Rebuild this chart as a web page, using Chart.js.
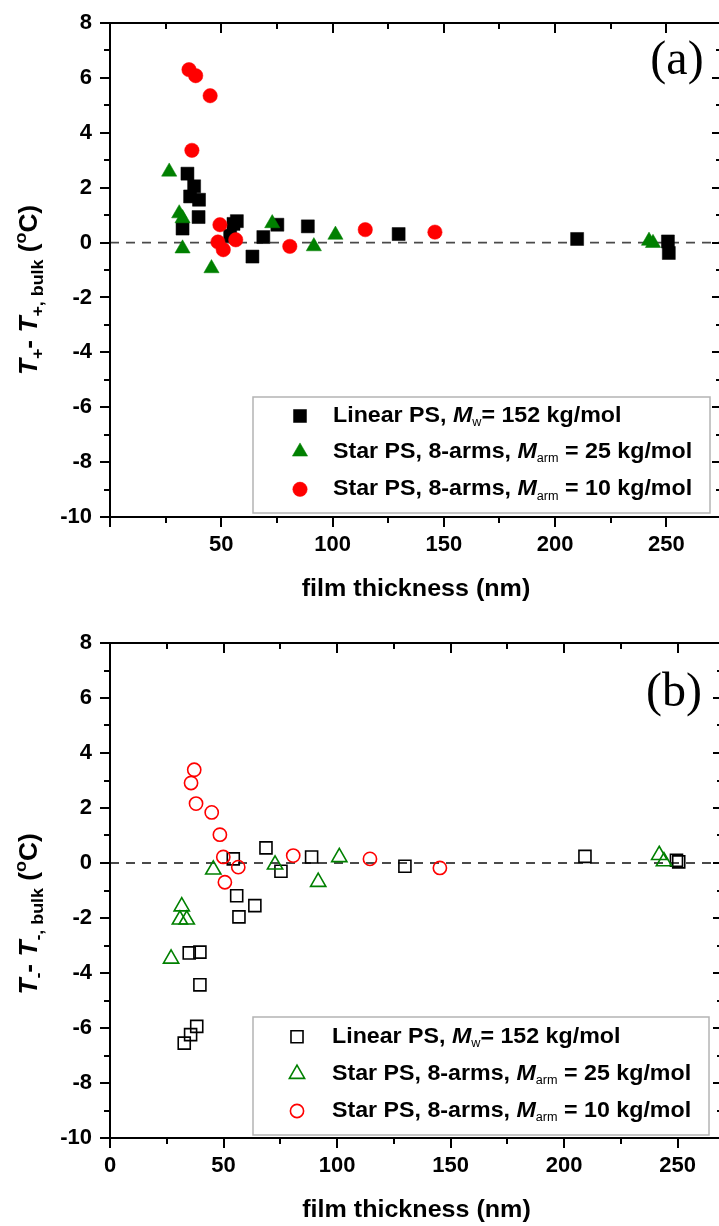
<!DOCTYPE html>
<html>
<head>
<meta charset="utf-8">
<script src="https://cdn.jsdelivr.net/npm/chart.js@4.4.0/dist/chart.umd.min.js"></script>
<style>
html,body{margin:0;padding:0;background:#fff;overflow:hidden;width:719px;height:1226px;}
canvas{position:absolute;left:0;}
#ca{top:0;}
#cb{top:613px;}
</style>
</head>
<body>
<canvas id="ca" width="740" height="613"></canvas>
<canvas id="cb" width="740" height="613"></canvas>
<script>
// ---------------- data: panel (a)  T+ - T+,bulk ----------------
const linearPlusX = [32.6, 34.8, 36.0, 37.8, 39.8, 40.0, 54.0, 55.5, 57.0, 64.0, 68.9, 75.2, 88.9, 129.7, 209.9, 250.7, 251.1];
const linearPlusY = [0.51, 2.51, 1.68, 2.05, 0.93, 1.56, 0.25, 0.68, 0.78, -0.51, 0.20, 0.65, 0.59, 0.31, 0.13, 0.04, -0.38];
const star25PlusX = [26.6, 31.1, 32.6, 32.6, 45.6, 72.9, 91.6, 101.3, 242.2, 244.0];
const star25PlusY = [2.58, 1.06, 0.88, -0.22, -0.94, 0.70, -0.14, 0.28, 0.06, -0.02];
const star10PlusX = [35.5, 38.5, 45.0, 36.8, 49.4, 48.5, 50.9, 56.5, 80.8, 114.7, 146.0];
const star10PlusY = [6.30, 6.08, 5.35, 3.36, 0.65, 0.02, -0.26, 0.10, -0.14, 0.47, 0.38];

// ---------------- data: panel (b)  T- - T-,bulk ----------------
const linearMinusX = [32.7, 35.5, 38.2, 34.9, 39.6, 39.6, 54.3, 55.8, 56.8, 63.8, 68.7, 75.3, 88.8, 129.9, 209.2, 249.5, 250.5];
const linearMinusY = [-6.55, -6.24, -5.94, -3.27, -3.24, -4.43, 0.15, -1.19, -1.96, -1.55, 0.55, -0.30, 0.22, -0.12, 0.24, 0.10, 0.04];
const star25MinusX = [26.9, 30.8, 31.6, 33.8, 45.5, 72.7, 91.7, 101.0, 241.9, 244.0];
const star25MinusY = [-3.48, -2.06, -1.58, -2.06, -0.24, -0.06, -0.69, 0.21, 0.29, 0.06];
const star10MinusX = [35.7, 37.1, 37.9, 44.8, 48.4, 49.9, 50.6, 56.5, 80.7, 114.5, 145.3];
const star10MinusY = [2.91, 3.39, 2.16, 1.84, 1.03, 0.22, -0.70, -0.15, 0.27, 0.15, -0.18];

// reference (bulk) line
const zeroLineX = [0, 280];
const zeroLineY = [0, 0];

// ---------------- axes ----------------
const xRangeA = [0, 275];
const xRangeB = [0, 270];
const yRange = [-10, 8];
const xTickLabelsA = [50, 100, 150, 200, 250];
const xTickLabelsB = [0, 50, 100, 150, 200, 250];
const yTickLabels = [-10, -8, -6, -4, -2, 0, 2, 4, 6, 8];
const xTickMarks = [0, 25, 50, 75, 100, 125, 150, 175, 200, 225, 250, 275];
const xMajorMarks = [0, 50, 100, 150, 200, 250];
const yTickMarks = [-10, -9, -8, -7, -6, -5, -4, -3, -2, -1, 0, 1, 2, 3, 4, 5, 6, 7, 8];
const yMajorMarks = [-10, -8, -6, -4, -2, 0, 2, 4, 6, 8];

// ---------------- text ----------------
const xTitle = 'film thickness (nm)';
const yTitleA = [['T', 'i'], ['+', 'sub'], ['- ', ''], ['T', 'i'], ['+, bulk', 'sub'], [' (', ''], ['o', 'sup'], ['C)', '']];
const yTitleB = [['T', 'i'], ['-', 'sub'], ['- ', ''], ['T', 'i'], ['-, bulk', 'sub'], [' (', ''], ['o', 'sup'], ['C)', '']];
const legendLinear = [['Linear PS, ', ''], ['M', 'i'], ['w', 'sub'], ['= 152 kg/mol', '']];
const legendStar25 = [['Star PS, 8-arms, ', ''], ['M', 'i'], ['arm', 'sub'], [' = 25 kg/mol', '']];
const legendStar10 = [['Star PS, 8-arms, ', ''], ['M', 'i'], ['arm', 'sub'], [' = 10 kg/mol', '']];
const panelLabelA = '(a)';
const panelLabelB = '(b)';

// ---------------- helpers ----------------
const FONT = '"Liberation Sans", Arial, Helvetica, sans-serif';
const GREEN = '#008000';
const RED = '#ff0000';
const pts = (xs, ys) => xs.map((x, i) => ({x: x, y: ys[i]}));

function segFont(kind, size, sub) {
  if (kind === 'sub' || kind === 'sup') return `${sub.weight} ${sub.size}px ${FONT}`;
  return `${kind === 'i' ? 'italic ' : ''}bold ${size}px ${FONT}`;
}
function richWidth(ctx, segs, size, sub) {
  let w = 0;
  for (const [t, k] of segs) { ctx.font = segFont(k, size, sub); w += ctx.measureText(t).width; }
  return w;
}
// draws rich text starting at (x,y), horizontally stretched by sx
function drawRich(ctx, segs, x, y, size, sub, sx) {
  ctx.save();
  ctx.translate(x, y);
  ctx.scale(sx, 1);
  let cx = 0;
  for (const [t, k] of segs) {
    ctx.font = segFont(k, size, sub);
    const dy = k === 'sub' ? sub.dy : (k === 'sup' ? -sub.up : 0);
    ctx.fillText(t, cx, dy);
    cx += ctx.measureText(t).width;
  }
  ctx.restore();
}

const framePlugin = {
  id: 'frame',
  afterDraw(chart, args, o) {
    const ctx = chart.ctx, ca = chart.chartArea, xs = chart.scales.x, ys = chart.scales.y;
    ctx.save();
    ctx.strokeStyle = '#000';
    ctx.lineWidth = 2;
    ctx.lineCap = 'butt';
    ctx.strokeRect(ca.left, ca.top, ca.right - ca.left, ca.bottom - ca.top);
    ctx.beginPath();
    for (const v of xTickMarks) {
      if (v < xs.min || v > xs.max) continue;
      const p = Math.round(xs.getPixelForValue(v));
      const L = xMajorMarks.includes(v) ? 10 : 6;
      ctx.moveTo(p, ca.bottom); ctx.lineTo(p, ca.bottom + L);
      ctx.moveTo(p, ca.top); ctx.lineTo(p, ca.top + L);
    }
    for (const v of yTickMarks) {
      const p = Math.round(ys.getPixelForValue(v));
      const L = yMajorMarks.includes(v) ? 10 : 6;
      ctx.moveTo(ca.left, p); ctx.lineTo(ca.left - L, p);
      ctx.moveTo(ca.right, p); ctx.lineTo(ca.right - L, p);
    }
    ctx.stroke();

    // panel label
    ctx.fillStyle = '#000';
    ctx.font = `${o.label.size}px "Liberation Serif", "Times New Roman", serif`;
    ctx.textAlign = 'center';
    ctx.textBaseline = 'middle';
    ctx.fillText(o.label.text, o.label.x, o.label.y);

    // x title
    ctx.save();
    ctx.font = `bold ${o.xt.size}px ${FONT}`;
    ctx.translate((ca.left + ca.right) / 2, o.xt.y);
    ctx.scale(o.xt.sx, 1);
    ctx.fillText(xTitle, 0, 0);
    ctx.restore();

    // y title (rich, rotated)
    ctx.textAlign = 'left';
    ctx.textBaseline = 'alphabetic';
    const ysub = {size: 17, weight: 'bold', dy: 6, up: 11};
    const w = richWidth(ctx, o.yt.segs, o.yt.size, ysub) * o.yt.sx;
    ctx.save();
    ctx.translate(o.yt.x, o.yt.y);
    ctx.rotate(-Math.PI / 2);
    drawRich(ctx, o.yt.segs, -w / 2, 0, o.yt.size, ysub, o.yt.sx);
    ctx.restore();

    // legend
    const L = o.legend;
    ctx.fillStyle = '#fff';
    ctx.fillRect(L.x, L.y, L.w, L.h);
    ctx.strokeStyle = '#b4b4b4';
    ctx.lineWidth = 1.5;
    ctx.strokeRect(L.x, L.y, L.w, L.h);
    const lsub = {size: 12, weight: 'normal', dy: 7, up: 8};
    L.items.forEach((it, i) => {
      const ds = chart.data.datasets[it.ds];
      const ry = L.rows[i];
      ctx.fillStyle = ds.backgroundColor;
      ctx.strokeStyle = ds.borderColor;
      ctx.lineWidth = ds.borderWidth;
      Chart.helpers.drawPoint(ctx, {pointStyle: ds.pointStyle, rotation: 0, radius: ds.pointRadius, borderWidth: ds.borderWidth}, L.mx, ry);
      ctx.fillStyle = '#000';
      ctx.textBaseline = 'middle';
      drawRich(ctx, it.segs, L.tx, ry, L.size, lsub, L.sx);
    });
    ctx.restore();
  }
};

function makeChart(id, cfg) {
  const open = cfg.open;
  const datasets = [
    {label: 'linear', data: pts(cfg.lin[0], cfg.lin[1]), pointStyle: 'rect',
     pointRadius: open ? 8.5 : 9.2, backgroundColor: open ? 'rgba(0,0,0,0)' : '#000',
     borderColor: '#000', borderWidth: open ? 1.6 : 0.5, order: 3},
    {label: 'star25', data: pts(cfg.s25[0], cfg.s25[1]), pointStyle: 'triangle',
     pointRadius: 8.8, backgroundColor: open ? 'rgba(0,0,0,0)' : GREEN,
     borderColor: GREEN, borderWidth: open ? 1.6 : 0.5, order: 2},
    {label: 'star10', data: pts(cfg.s10[0], cfg.s10[1]), pointStyle: 'circle',
     pointRadius: open ? 6.6 : 7.2, backgroundColor: open ? 'rgba(0,0,0,0)' : RED,
     borderColor: RED, borderWidth: open ? 1.6 : 0.5, order: 1},
    {label: 'bulk', type: 'line', data: pts(zeroLineX, zeroLineY), showLine: true,
     pointRadius: 0, borderColor: '#4a4a4a', borderWidth: 1.8, borderDash: [9, 7],
     fill: false, order: 4}
  ];
  return new Chart(document.getElementById(id), {
    type: 'scatter',
    data: {datasets: datasets},
    plugins: [framePlugin],
    options: {
      responsive: false,
      devicePixelRatio: 1,
      animation: false,
      events: [],
      layout: {padding: {top: cfg.padTop, right: cfg.padRight, bottom: 0, left: 0}},
      plugins: {
        legend: {display: false},
        tooltip: {enabled: false},
        frame: {
          label: {text: cfg.label, size: 48, x: cfg.labelX, y: cfg.labelY},
          xt: {size: 24, sx: 1.045, y: cfg.xtY},
          yt: {segs: cfg.ytSegs, size: 25, sx: 1.05, x: 37, y: cfg.ytY},
          legend: {x: 253, y: cfg.lg.y, w: cfg.lg.w, h: cfg.lg.h, mx: cfg.lg.mx, tx: cfg.lg.tx,
                   rows: cfg.lg.rows, size: 22, sx: 1.055,
                   items: [{ds: 0, segs: legendLinear}, {ds: 1, segs: legendStar25}, {ds: 2, segs: legendStar10}]}
        }
      },
      scales: {
        x: {
          type: 'linear', min: cfg.xRange[0], max: cfg.xRange[1],
          grid: {display: false, drawTicks: false},
          border: {display: false},
          afterFit: s => { s.height = cfg.xH; s.paddingLeft = 0; s.paddingRight = 0; },
          afterBuildTicks: s => { s.ticks = cfg.xTicks.map(v => ({value: v})); },
          ticks: {padding: 15, color: '#000', maxRotation: 0, autoSkip: false,
                  font: {family: FONT, size: 22, weight: 'bold'}, callback: v => String(v)}
        },
        y: {
          type: 'linear', min: yRange[0], max: yRange[1],
          grid: {display: false, drawTicks: false},
          border: {display: false},
          afterFit: s => { s.width = 110; s.paddingTop = 0; s.paddingBottom = 0; },
          afterBuildTicks: s => { s.ticks = yTickLabels.map(v => ({value: v})); },
          ticks: {padding: 18, color: '#000', autoSkip: false,
                  font: {family: FONT, size: 22, weight: 'bold'}, callback: v => String(v)}
        }
      }
    }
  });
}

makeChart('ca', {
  open: false, lin: [linearPlusX, linearPlusY], s25: [star25PlusX, star25PlusY], s10: [star10PlusX, star10PlusY],
  xRange: xRangeA, xTicks: xTickLabelsA, padTop: 23, padRight: 18, xH: 96,
  label: panelLabelA, labelX: 677, labelY: 61, xtY: 589, ytSegs: yTitleA, ytY: 290,
  lg: {y: 397, w: 457, h: 116, mx: 300, tx: 333, rows: [416, 451.7, 489.3]}
});
makeChart('cb', {
  open: true, lin: [linearMinusX, linearMinusY], s25: [star25MinusX, star25MinusY], s10: [star10MinusX, star10MinusY],
  xRange: xRangeB, xTicks: xTickLabelsB, padTop: 30, padRight: 17, xH: 88,
  label: panelLabelB, labelX: 674, labelY: 80.5, xtY: 597, ytSegs: yTitleB, ytY: 301,
  lg: {y: 404, w: 456, h: 118, mx: 297, tx: 332, rows: [423.7, 461, 498]}
});
</script>
</body>
</html>
